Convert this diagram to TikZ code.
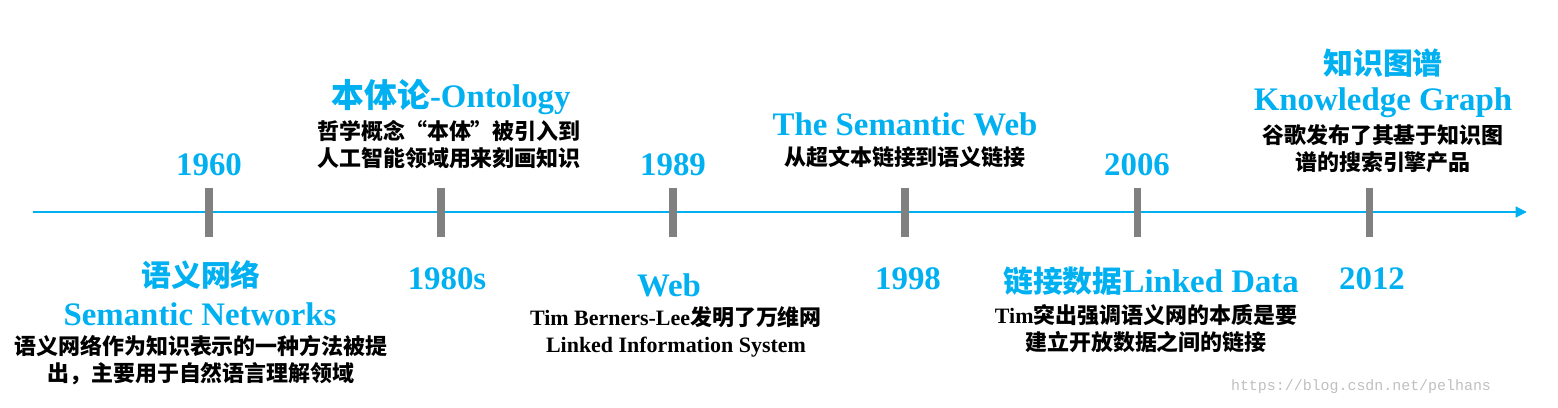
\documentclass[tikz,border=0pt]{standalone}
\usepackage{fontspec}
\setmainfont{Liberation Serif}
\newfontfamily\cjk{Noto Sans CJK SC}
\newfontfamily\wmfont{Liberation Mono}
\usetikzlibrary{arrows.meta}
\definecolor{lineblue}{RGB}{0,176,240}
\definecolor{tickgray}{RGB}{128,128,128}
\newcommand{\zh}[1]{{\cjk\bfseries #1}}

\begin{document}
\begin{tikzpicture}[x=0.02cm,y=-0.02cm,
  yearlbl/.style={font=\fontsize{18.7}{22}\selectfont\bfseries,text=lineblue,inner sep=0pt},
  zhtitle/.style={font=\fontsize{17}{20}\selectfont\cjk\bfseries,text=lineblue,inner sep=0pt},
  notelbl/.style={font=\fontsize{12.5}{15.3}\selectfont\bfseries,align=center,inner sep=0pt},
  tickmark/.style={fill=tickgray,minimum width=4pt,minimum height=28pt,inner sep=0pt}]
  \useasboundingbox (0,0) rectangle (1558,408);
  % axis
  \coordinate (start) at (33,212);
  \coordinate (end) at (1527,212);
  \draw[lineblue,line width=1.7pt,-{Triangle[length=6.5pt,width=6pt]}] (start) -- (end);
  \foreach \x/\n in {209/a,441/b,673/c,905/d,1137/e,1369/f}
    \node[tickmark] (tick\n) at (\x,212.5) {};
  % above the axis
  \node[yearlbl] (y1960) at (209,165) {1960};
  \node[yearlbl] (onto) at (451,97) {\zh{本体论}-Ontology};
  \node[notelbl] (ontonote) at (449,144.5) {\zh{哲学概念“本体”被引入到}\\\zh{人工智能领域用来刻画知识}};
  \node[yearlbl] (y1989) at (673,165) {1989};
  \node[yearlbl] (semweb) at (905,124) {The Semantic Web};
  \node[notelbl] (semwebnote) at (905,157) {\zh{从超文本链接到语义链接}};
  \node[yearlbl] (y2006) at (1137,165) {2006};
  \node[zhtitle] (kgzh) at (1383,63) {知识图谱};
  \node[yearlbl] (kg) at (1383,103) {Knowledge Graph};
  \node[notelbl] (kgnote) at (1383,149) {\zh{谷歌发布了其基于知识图}\\\zh{谱的搜索引擎产品}};
  % below the axis
  \node[zhtitle] (snzh) at (201,275) {语义网络};
  \node[yearlbl] (sn) at (200,314) {Semantic Networks};
  \node[notelbl] (snnote) at (201,360.5) {\zh{语义网络作为知识表示的一种方法被提}\\\zh{出，主要用于自然语言理解领域}};
  \node[yearlbl] (y1980) at (447,279) {1980s};
  \node[yearlbl] (web) at (669,285) {Web};
  \node[notelbl] (webnote) at (676,331.5) {Tim Berners-Lee\zh{发明了万维网}\\Linked Information System};
  \node[yearlbl] (y1998) at (908,279) {1998};
  \node[yearlbl] (ld) at (1151,281) {{\fontsize{17}{20}\selectfont\zh{链接数据}}Linked Data};
  \node[notelbl] (ldnote) at (1146,328.5) {Tim\zh{突出强调语义网的本质是要}\\\zh{建立开放数据之间的链接}};
  \node[yearlbl] (y2012) at (1372,279) {2012};
  \node[font=\fontsize{8.5}{10}\selectfont\wmfont,text=black!25,inner sep=0pt] (wm) at (1361,387) {https://blog.csdn.net/pelhans};
\end{tikzpicture}
\end{document}
